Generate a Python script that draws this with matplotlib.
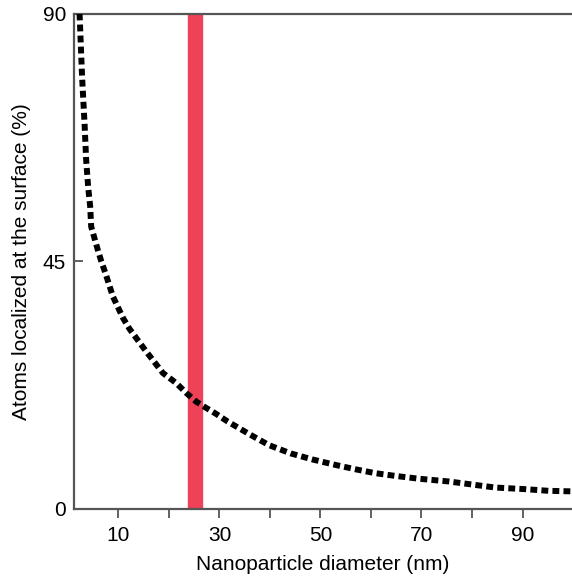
import matplotlib.pyplot as plt

plt.rcParams["font.family"] = ["Liberation Sans", "DejaVu Sans"]

# values
diameter = [2.3, 2.8, 3.3, 3.6, 4.0, 4.4, 4.6, 5.25, 5.9, 6.6, 7.4, 8.9, 10.9, 12.2,
            15.5, 18.8, 21.4, 23.4, 25.4, 27.3, 29.3, 31.6, 35.9, 39.8, 44.1, 48.4,
            53.0, 57.0, 60.9, 64.9, 69.5, 75.4, 80.4, 84.6, 90.6, 95.2, 100.0]
surface_pct = [90, 78.5, 69.8, 63.5, 58.5, 55.0, 51.3, 49.2, 47.1, 45.0, 42.9, 38.6, 34.7,
               32.7, 28.6, 24.7, 22.9, 21.1, 19.5, 18.4, 17.3, 15.9, 13.6, 11.6, 10.1,
               9.0, 8.0, 7.2, 6.5, 6.0, 5.5, 5.0, 4.4, 3.9, 3.6, 3.3, 3.2]
band = (23.8, 26.6)
major_x = [10, 30, 50, 70, 90]
minor_x = [20, 40, 60, 80]
yticks = [0, 45, 90]

fig = plt.figure(figsize=(5.72, 5.77), dpi=100)
ax = fig.add_axes([74 / 572, 1 - 509 / 577, 1 - 74 / 572, (509 - 13.5) / 577])

ax.axvspan(band[0], band[1], color="#ED4257", zorder=1)
ax.plot(diameter, surface_pct, color="black", lw=4.3,
        linestyle=(0, (1.15, 0.7)), dash_capstyle="butt", zorder=3)

ax.set_xlim(1.2, 99.8)
ax.set_ylim(0, 90)

ax.set_xticks(major_x)
ax.set_xticks(minor_x, minor=True)
ax.set_yticks(yticks)

ax.tick_params(axis="x", which="both", direction="out", length=6.5, width=1.3,
               color="#555555", labelsize=15, pad=6)
ax.tick_params(axis="y", direction="in", length=6.5, width=1.3,
               color="#555555", labelsize=15, pad=5.8)

for side in ["left", "bottom", "top"]:
    ax.spines[side].set_color("#555555")
    ax.spines[side].set_linewidth(1.6)
ax.spines["right"].set_visible(False)

ax.set_xlabel("Nanoparticle diameter (nm)", fontsize=15, labelpad=7)
ax.set_ylabel("Atoms localized at the surface (%)", fontsize=15, labelpad=8)

fig.savefig("out.png", dpi=100)
